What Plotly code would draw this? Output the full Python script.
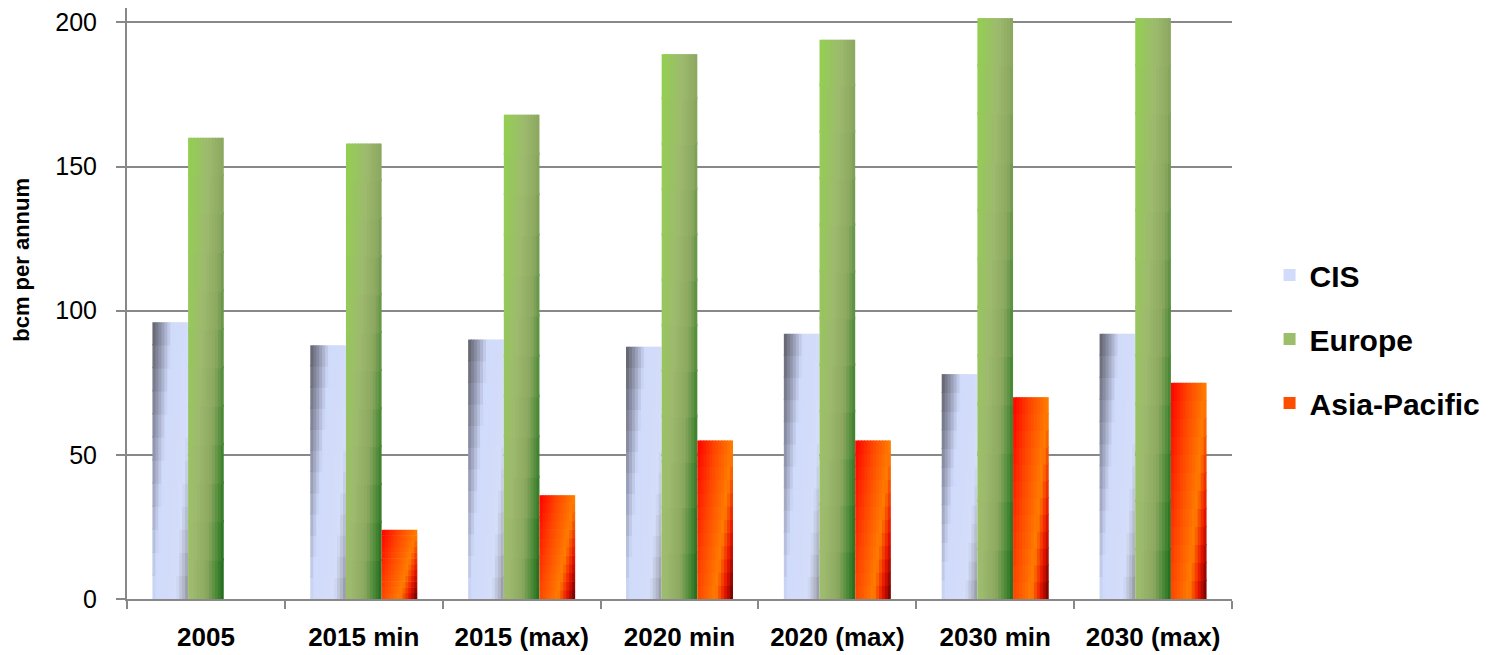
import numpy as np
import plotly.graph_objects as go

# Gas demand by region, bcm per annum
categories = ["2005", "2015 min", "2015 (max)", "2020 min", "2020 (max)", "2030 min", "2030 (max)"]
cis = [96, 88, 90, 87.5, 92, 78, 92]
europe = [160, 158, 168, 189, 194, 201.5, 201.5]
asia_pacific = [None, 24, 36, 55, 55, 70, 75]

# Diagonal gradient stops for each series: (position, rgb)
CIS_STOPS = [(0.0, (92, 92, 98)), (0.25, (140, 145, 168)), (0.55, (208, 218, 250)),
             (1.15, (212, 222, 250)), (1.35, (178, 183, 200)), (1.5, (140, 142, 152))]
EUR_STOPS = [(0.0, (146, 208, 80)), (0.6, (158, 186, 110)), (1.0, (140, 168, 96)),
             (1.25, (80, 140, 58)), (1.5, (24, 104, 26))]
ASIA_STOPS = [(0.0, (255, 0, 0)), (0.5, (255, 70, 0)), (1.0, (255, 125, 0)),
              (1.25, (235, 20, 0)), (1.5, (95, 0, 0))]

N_COLS = 12
N_ROWS = 12
BAR_W = 0.226


def shade(stops, s):
    for (p0, c0), (p1, c1) in zip(stops[:-1], stops[1:]):
        if s <= p1:
            t = 0 if p1 == p0 else max(0.0, (s - p0) / (p1 - p0))
            c = [round(a + (b - a) * t) for a, b in zip(c0, c1)]
            return f"rgb({c[0]},{c[1]},{c[2]})"
    c = stops[-1][1]
    return f"rgb({c[0]},{c[1]},{c[2]})"


series = [
    ("CIS", cis, CIS_STOPS, -1.5 * BAR_W, (6, 7)),
    ("Europe", europe, EUR_STOPS, -0.5 * BAR_W, (3, 7)),
    ("Asia-Pacific", asia_pacific, ASIA_STOPS, 0.5 * BAR_W, (4, 7)),
]

fig = go.Figure()
cw = BAR_W / N_COLS
for name, values, stops, off0, legend_cell in series:
    vals = np.array([np.nan if v is None else v for v in values], dtype=float)
    for j in range(N_ROWS):
        v_mid = (j + 0.5) / N_ROWS          # 0 at bottom, 1 at top of each bar
        # lower cells reach slightly into the next one so no seams show
        h = vals / N_ROWS * (1.06 if j < N_ROWS - 1 else 1.0)
        for i in range(N_COLS):
            u_mid = (i + 0.5) / N_COLS
            s = u_mid + 0.5 * (1 - v_mid)
            fig.add_trace(go.Bar(
                x=categories,
                y=h,
                base=vals * j / N_ROWS,
                offset=off0 + i * cw,
                width=cw * 1.35 if i < N_COLS - 1 else cw,
                marker=dict(color=shade(stops, s), line=dict(width=0)),
                name=name,
                legendgroup=name,
                showlegend=(i, j) == legend_cell,
                hoverinfo="skip",
            ))

fig.update_layout(
    width=1497, height=655,
    margin=dict(l=127, r=265, t=8, b=56),
    plot_bgcolor="white", paper_bgcolor="white",
    barmode="overlay",
    font=dict(family="Liberation Sans, Arial, sans-serif", color="black"),
    showlegend=True,
    legend=dict(x=1.034, xanchor="left", y=0.44, yanchor="middle",
                font=dict(size=30, weight="bold"), tracegroupgap=22,
                borderwidth=0, bgcolor="rgba(0,0,0,0)", itemclick=False),
    xaxis=dict(
        type="category", tickson="boundaries", ticks="outside", ticklen=8,
        tickwidth=2, tickcolor="#888888", showline=True, linecolor="#888888",
        linewidth=2, showgrid=False, ticklabelstandoff=14, automargin=False,
        tickfont=dict(size=26, weight="bold"), range=[-0.5, 6.5],
    ),
    yaxis=dict(
        range=[0, 205], tickvals=[0, 50, 100, 150, 200], ticks="outside",
        ticklen=9, tickwidth=2, tickcolor="#888888", showline=True,
        linecolor="#888888", linewidth=2, showgrid=True, gridcolor="#888888",
        gridwidth=2, zeroline=False, ticklabelstandoff=14, automargin=False,
        tickfont=dict(size=25),
    ),
    annotations=[dict(
        text="bcm per annum", textangle=-90, xref="paper", yref="paper",
        x=-0.095, y=0.574, xanchor="center", yanchor="middle", showarrow=False,
        font=dict(size=22, weight="bold"),
    )],
)

fig.write_html("out.html")
